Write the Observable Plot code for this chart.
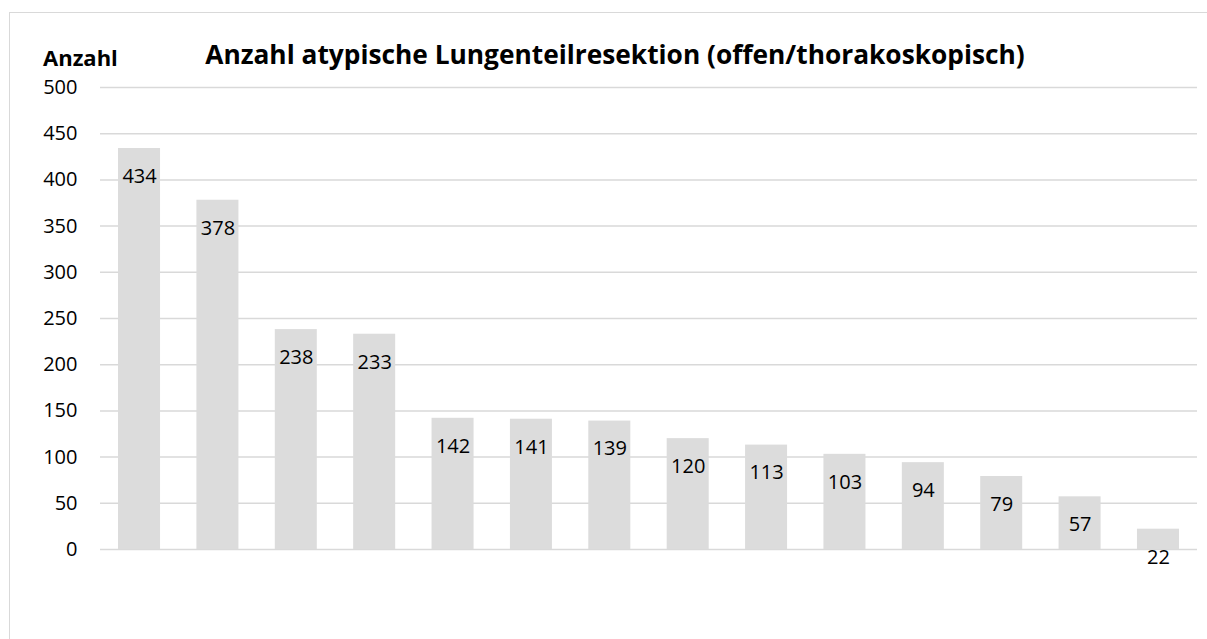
<!DOCTYPE html>
<html>
<head>
<meta charset="utf-8">
<script src="https://cdn.jsdelivr.net/npm/d3@7"></script>
<script src="https://cdn.jsdelivr.net/npm/@observablehq/plot@0.6"></script>
<style>
  html, body { margin: 0; padding: 0; background: #fff; }
  #wrap { position: relative; width: 1207px; height: 639px; overflow: hidden; font-family: "Open Sans", sans-serif; }
  #border { position: absolute; left: 9px; top: 12px; width: 1250px; height: 700px; border: 1px solid #d9d9d9; box-sizing: border-box; }
  #title { position: absolute; left: 0; width: 1230px; top: 41px; text-align: center; font-weight: 700; font-size: 26.3px; color: #000; line-height: 1; white-space: nowrap; }
  #ylab { position: absolute; left: 43px; top: 46px; font-weight: 700; font-size: 22px; color: #000; line-height: 1; }
  #chart { position: absolute; left: 0; top: 0; }
</style>
</head>
<body>
<div id="wrap">
  <div id="border"></div>
  <div id="chart"></div>
  <div id="title">Anzahl atypische Lungenteilresektion (offen/thorakoskopisch)</div>
  <div id="ylab">Anzahl</div>
</div>
<script>
const categories = ["1","2","3","4","5","6","7","8","9","10","11","12","13","14"];
const values = [434, 378, 238, 233, 142, 141, 139, 120, 113, 103, 94, 79, 57, 22];
const yTicks = [0, 50, 100, 150, 200, 250, 300, 350, 400, 450, 500];

const data = categories.map((c, i) => ({cat: c, value: values[i]}));

const chart = Plot.plot({
  width: 1207,
  height: 639,
  marginLeft: 100,
  marginRight: 10,
  marginTop: 87,
  marginBottom: 90,
  style: {fontFamily: "Open Sans, sans-serif", fontSize: "20px", color: "#000", background: "transparent"},
  x: {domain: categories, paddingInner: 0.464, paddingOuter: 0.23, round: false, axis: null},
  y: {domain: [0, 500], ticks: yTicks, label: null, tickSize: 0, tickPadding: 23},
  marks: [
    Plot.gridY(yTicks, {stroke: "#d9d9d9", strokeOpacity: 1, strokeWidth: 1.5}),
    Plot.barY(data, {x: "cat", y: "value", fill: "#dcdcdc"}),
    Plot.axisY({ticks: yTicks, tickSize: 0, tickPadding: 23, label: null, fontSize: 20, fill: "#000"}),
    Plot.text(data, {x: "cat", y: "value", text: d => String(d.value), dy: 28, fontSize: 20, fill: "#000"})
  ]
});
document.getElementById("chart").appendChild(chart);
</script>
</body>
</html>
